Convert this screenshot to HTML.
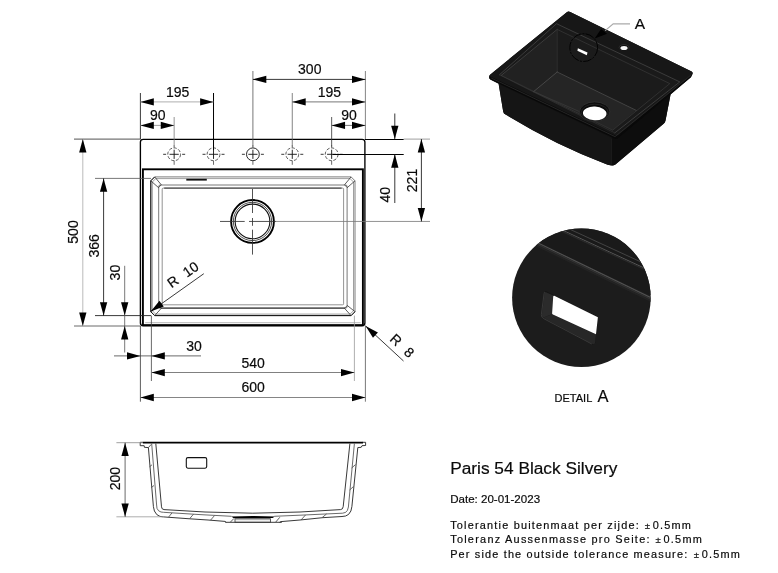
<!DOCTYPE html>
<html><head><meta charset="utf-8"><title>Paris 54 Black Silvery</title>
<style>
html,body{margin:0;padding:0;background:#fff;}
body{width:778px;height:573px;overflow:hidden;font-family:"Liberation Sans",sans-serif;}
svg{display:block;font-family:"Liberation Sans",sans-serif;}
svg text{fill:#0a0a0a;stroke:#0a0a0a;stroke-width:0.18px;}
svg{will-change:transform;opacity:0.999;}
</style></head><body>
<svg width="778" height="573" viewBox="0 0 778 573">
<rect width="778" height="573" fill="#fff"/>
<rect x="140.4" y="139.29999999999998" width="224.50" height="186.60" rx="2.8" fill="none" stroke="#000" stroke-width="1.35"/>
<rect x="142.9" y="169.3" width="220.00" height="155.80" fill="none" stroke="#000" stroke-width="1.9"/>
<path d="M145.2 322.7 H360.6" fill="none" stroke="#999" stroke-width="0.7"/>
<path d="M154.70 176.90 H351.10 L355.00 180.80 V311.70 L351.10 315.60 H154.70 L150.80 311.70 V180.80 Z" fill="none" stroke="#666" stroke-width="0.85"/>
<path d="M154.70 176.90 L150.80 180.80 V311.70 L154.70 315.60 H351.10 L355.00 311.70" fill="none" stroke="#111" stroke-width="1.0"/>
<path d="M155.70 178.60 H350.10 L353.50 182.00 V310.70 L350.10 314.10 H155.70 L152.30 310.70 V182.00 Z" fill="none" stroke="#777" stroke-width="0.7"/>
<rect x="158.7" y="185.0" width="188.40" height="123.10" rx="1.5" fill="none" stroke="#555" stroke-width="0.8"/>
<path d="M160.70 308.10 H345.10" fill="none" stroke="#1a1a1a" stroke-width="0.9"/>
<rect x="162.2" y="188.1" width="181.40" height="116.70" rx="1" fill="none" stroke="#777" stroke-width="0.8"/>
<path d="M164.20 188.10 H341.60" fill="none" stroke="#222" stroke-width="0.9"/>
<path d="M150.80 180.80 L158.50 187.60 L161.30 184.80 L154.70 176.90" fill="none" stroke="#333" stroke-width="0.8"/>
<path d="M355.00 180.80 L347.30 187.60 L344.50 184.80 L351.10 176.90" fill="none" stroke="#333" stroke-width="0.8"/>
<path d="M150.80 311.70 L158.50 305.50 L161.30 308.30 L154.70 315.60" fill="none" stroke="#333" stroke-width="0.8"/>
<path d="M355.00 311.70 L347.30 305.50 L344.50 308.30 L351.10 315.60" fill="none" stroke="#333" stroke-width="0.8"/>
<line x1="186.30" y1="179.70" x2="206.80" y2="179.70" stroke="#111" stroke-width="1.8" />
<circle cx="174.15" cy="154.3" r="6.4" fill="none" stroke="#333" stroke-width="0.8" stroke-dasharray="3.2 1.6"/>
<line x1="169.55" y1="154.30" x2="178.75" y2="154.30" stroke="#111" stroke-width="0.9" />
<line x1="174.15" y1="149.70" x2="174.15" y2="158.90" stroke="#111" stroke-width="0.9" />
<line x1="163.15" y1="154.30" x2="166.15" y2="154.30" stroke="#222" stroke-width="0.9" />
<line x1="182.15" y1="154.30" x2="185.15" y2="154.30" stroke="#222" stroke-width="0.9" />
<line x1="174.15" y1="160.80" x2="174.15" y2="164.80" stroke="#444" stroke-width="0.8" />
<line x1="174.15" y1="145.30" x2="174.15" y2="147.70" stroke="#444" stroke-width="0.8" />
<circle cx="213.52" cy="154.3" r="6.4" fill="none" stroke="#333" stroke-width="0.8" stroke-dasharray="3.2 1.6"/>
<line x1="208.92" y1="154.30" x2="218.12" y2="154.30" stroke="#111" stroke-width="0.9" />
<line x1="213.52" y1="149.70" x2="213.52" y2="158.90" stroke="#111" stroke-width="0.9" />
<line x1="202.52" y1="154.30" x2="205.52" y2="154.30" stroke="#222" stroke-width="0.9" />
<line x1="221.52" y1="154.30" x2="224.52" y2="154.30" stroke="#222" stroke-width="0.9" />
<line x1="213.52" y1="160.80" x2="213.52" y2="164.80" stroke="#444" stroke-width="0.8" />
<line x1="213.52" y1="145.30" x2="213.52" y2="147.70" stroke="#444" stroke-width="0.8" />
<circle cx="252.90" cy="154.3" r="6.4" fill="none" stroke="#111" stroke-width="0.9"/>
<line x1="248.30" y1="154.30" x2="257.50" y2="154.30" stroke="#111" stroke-width="0.9" />
<line x1="252.90" y1="149.70" x2="252.90" y2="158.90" stroke="#111" stroke-width="0.9" />
<line x1="241.90" y1="154.30" x2="244.90" y2="154.30" stroke="#222" stroke-width="0.9" />
<line x1="260.90" y1="154.30" x2="263.90" y2="154.30" stroke="#222" stroke-width="0.9" />
<line x1="252.90" y1="160.80" x2="252.90" y2="164.80" stroke="#444" stroke-width="0.8" />
<line x1="252.90" y1="145.30" x2="252.90" y2="147.70" stroke="#444" stroke-width="0.8" />
<circle cx="292.27" cy="154.3" r="6.4" fill="none" stroke="#333" stroke-width="0.8" stroke-dasharray="3.2 1.6"/>
<line x1="287.67" y1="154.30" x2="296.88" y2="154.30" stroke="#111" stroke-width="0.9" />
<line x1="292.27" y1="149.70" x2="292.27" y2="158.90" stroke="#111" stroke-width="0.9" />
<line x1="281.27" y1="154.30" x2="284.27" y2="154.30" stroke="#222" stroke-width="0.9" />
<line x1="300.27" y1="154.30" x2="303.27" y2="154.30" stroke="#222" stroke-width="0.9" />
<line x1="292.27" y1="160.80" x2="292.27" y2="164.80" stroke="#444" stroke-width="0.8" />
<line x1="292.27" y1="145.30" x2="292.27" y2="147.70" stroke="#444" stroke-width="0.8" />
<circle cx="331.65" cy="154.3" r="6.4" fill="none" stroke="#333" stroke-width="0.8" stroke-dasharray="3.2 1.6"/>
<line x1="327.05" y1="154.30" x2="336.25" y2="154.30" stroke="#111" stroke-width="0.9" />
<line x1="331.65" y1="149.70" x2="331.65" y2="158.90" stroke="#111" stroke-width="0.9" />
<line x1="320.65" y1="154.30" x2="323.65" y2="154.30" stroke="#222" stroke-width="0.9" />
<line x1="339.65" y1="154.30" x2="342.65" y2="154.30" stroke="#222" stroke-width="0.9" />
<line x1="331.65" y1="160.80" x2="331.65" y2="164.80" stroke="#444" stroke-width="0.8" />
<line x1="331.65" y1="145.30" x2="331.65" y2="147.70" stroke="#444" stroke-width="0.8" />
<circle cx="252.50" cy="221.45" r="21.4" fill="none" stroke="#000" stroke-width="1.9"/>
<circle cx="252.50" cy="221.45" r="19.15" fill="none" stroke="#222" stroke-width="0.8"/>
<circle cx="252.50" cy="221.45" r="17.35" fill="none" stroke="#111" stroke-width="1.1"/>
<line x1="220.00" y1="221.45" x2="244.70" y2="221.45" stroke="#333" stroke-width="0.85" />
<line x1="249.00" y1="221.45" x2="276.00" y2="221.45" stroke="#333" stroke-width="0.85" />
<line x1="276.00" y1="221.45" x2="430.00" y2="221.45" stroke="#777" stroke-width="0.8" />
<line x1="252.50" y1="189.00" x2="252.50" y2="213.00" stroke="#333" stroke-width="0.85" />
<line x1="252.50" y1="218.00" x2="252.50" y2="225.80" stroke="#333" stroke-width="0.85" />
<line x1="252.50" y1="229.70" x2="252.50" y2="254.60" stroke="#333" stroke-width="0.85" />
<line x1="140.40" y1="93.00" x2="140.40" y2="139.10" stroke="#222" stroke-width="0.9" />
<line x1="365.40" y1="71.00" x2="365.40" y2="139.10" stroke="#666" stroke-width="0.8" />
<line x1="174.15" y1="117.00" x2="174.15" y2="146.50" stroke="#777" stroke-width="0.8" />
<line x1="213.52" y1="93.00" x2="213.52" y2="150.00" stroke="#000" stroke-width="1.0" />
<line x1="252.90" y1="71.00" x2="252.90" y2="146.50" stroke="#555" stroke-width="0.8" />
<line x1="292.27" y1="93.00" x2="292.27" y2="146.50" stroke="#666" stroke-width="0.8" />
<line x1="331.65" y1="117.00" x2="331.65" y2="146.50" stroke="#333" stroke-width="0.8" />
<line x1="252.90" y1="79.40" x2="365.40" y2="79.40" stroke="#222" stroke-width="0.9" />
<polygon points="252.90,79.40 266.30,75.75 266.30,83.05" fill="#000"/>
<polygon points="365.40,79.40 352.00,83.05 352.00,75.75" fill="#000"/>
<text x="309.75" y="74.00" font-size="14" text-anchor="middle" >300</text>
<line x1="140.40" y1="101.90" x2="213.52" y2="101.90" stroke="#999" stroke-width="0.8" />
<polygon points="140.40,101.90 153.80,98.25 153.80,105.55" fill="#000"/>
<polygon points="213.52,101.90 200.12,105.55 200.12,98.25" fill="#000"/>
<text x="177.56" y="96.50" font-size="14" text-anchor="middle" >195</text>
<line x1="292.27" y1="101.90" x2="365.40" y2="101.90" stroke="#555" stroke-width="0.8" />
<polygon points="292.27,101.90 305.67,98.25 305.67,105.55" fill="#000"/>
<polygon points="365.40,101.90 352.00,105.55 352.00,98.25" fill="#000"/>
<text x="329.44" y="96.50" font-size="14" text-anchor="middle" >195</text>
<line x1="140.40" y1="125.40" x2="174.15" y2="125.40" stroke="#888" stroke-width="0.8" />
<polygon points="140.40,125.40 153.80,121.75 153.80,129.05" fill="#000"/>
<polygon points="174.15,125.40 160.75,129.05 160.75,121.75" fill="#000"/>
<text x="157.88" y="120.00" font-size="14" text-anchor="middle" >90</text>
<line x1="331.65" y1="125.40" x2="365.40" y2="125.40" stroke="#555" stroke-width="0.8" />
<polygon points="331.65,125.40 345.05,121.75 345.05,129.05" fill="#000"/>
<polygon points="365.40,125.40 352.00,129.05 352.00,121.75" fill="#000"/>
<text x="349.12" y="120.00" font-size="14" text-anchor="middle" >90</text>
<line x1="364.90" y1="139.50" x2="403.70" y2="139.50" stroke="#000" stroke-width="1.15" />
<line x1="403.70" y1="139.10" x2="430.00" y2="139.10" stroke="#888" stroke-width="0.8" />
<line x1="332.65" y1="154.45" x2="403.70" y2="154.45" stroke="#000" stroke-width="1.1" />
<line x1="394.80" y1="113.50" x2="394.80" y2="139.10" stroke="#222" stroke-width="0.9" />
<line x1="394.80" y1="154.30" x2="394.80" y2="203.00" stroke="#222" stroke-width="0.9" />
<polygon points="394.80,139.10 391.15,125.70 398.45,125.70" fill="#000"/>
<polygon points="394.80,154.30 398.45,167.70 391.15,167.70" fill="#000"/>
<line x1="421.40" y1="139.10" x2="421.40" y2="221.45" stroke="#222" stroke-width="0.9" />
<polygon points="421.40,139.10 425.05,152.50 417.75,152.50" fill="#000"/>
<polygon points="421.40,221.45 417.75,208.05 425.05,208.05" fill="#000"/>
<text x="390.00" y="194.80" font-size="14" text-anchor="middle" transform="rotate(-90 390.00 194.80)" >40</text>
<text x="416.60" y="180.50" font-size="14" text-anchor="middle" transform="rotate(-90 416.60 180.50)" >221</text>
<line x1="74.00" y1="139.10" x2="140.40" y2="139.10" stroke="#333" stroke-width="0.85" />
<line x1="74.00" y1="326.00" x2="140.40" y2="326.00" stroke="#444" stroke-width="0.8" />
<line x1="95.00" y1="178.40" x2="151.00" y2="178.40" stroke="#555" stroke-width="0.8" />
<line x1="95.00" y1="315.60" x2="151.00" y2="315.60" stroke="#222" stroke-width="0.9" />
<line x1="82.80" y1="139.10" x2="82.80" y2="326.00" stroke="#aaa" stroke-width="0.8" />
<polygon points="82.80,139.10 86.45,152.50 79.15,152.50" fill="#000"/>
<polygon points="82.80,326.00 79.15,312.60 86.45,312.60" fill="#000"/>
<line x1="103.60" y1="178.40" x2="103.60" y2="315.60" stroke="#222" stroke-width="0.9" />
<polygon points="103.60,178.40 107.25,191.80 99.95,191.80" fill="#000"/>
<polygon points="103.60,315.60 99.95,302.20 107.25,302.20" fill="#000"/>
<line x1="124.70" y1="265.80" x2="124.70" y2="352.50" stroke="#555" stroke-width="0.8" />
<polygon points="124.70,315.60 121.05,302.20 128.35,302.20" fill="#000"/>
<polygon points="124.70,326.00 128.35,339.40 121.05,339.40" fill="#000"/>
<text x="78.00" y="232.00" font-size="14" text-anchor="middle" transform="rotate(-90 78.00 232.00)" >500</text>
<text x="99.00" y="245.80" font-size="14" text-anchor="middle" transform="rotate(-90 99.00 245.80)" >366</text>
<text x="120.40" y="272.60" font-size="14" text-anchor="middle" transform="rotate(-90 120.40 272.60)" >30</text>
<line x1="140.40" y1="326.00" x2="140.40" y2="401.70" stroke="#333" stroke-width="0.8" />
<line x1="365.40" y1="326.00" x2="365.40" y2="401.70" stroke="#555" stroke-width="0.8" />
<line x1="151.40" y1="315.60" x2="151.40" y2="381.00" stroke="#444" stroke-width="0.8" />
<line x1="354.40" y1="315.60" x2="354.40" y2="381.00" stroke="#999" stroke-width="0.8" />
<line x1="114.00" y1="355.90" x2="201.00" y2="355.90" stroke="#444" stroke-width="0.8" />
<polygon points="140.40,355.90 127.00,359.55 127.00,352.25" fill="#000"/>
<polygon points="151.40,355.90 164.80,352.25 164.80,359.55" fill="#000"/>
<text x="194.00" y="351.00" font-size="14" text-anchor="middle" >30</text>
<line x1="151.40" y1="372.50" x2="354.40" y2="372.50" stroke="#808080" stroke-width="1.0" />
<polygon points="151.40,372.60 164.80,368.95 164.80,376.25" fill="#000"/>
<polygon points="354.40,372.60 341.00,376.25 341.00,368.95" fill="#000"/>
<text x="253.20" y="367.80" font-size="14" text-anchor="middle" >540</text>
<line x1="140.40" y1="397.50" x2="365.40" y2="397.50" stroke="#666" stroke-width="0.8" />
<polygon points="140.40,397.50 153.80,393.85 153.80,401.15" fill="#000"/>
<polygon points="365.40,397.50 352.00,401.15 352.00,393.85" fill="#000"/>
<text x="253.20" y="392.30" font-size="14" text-anchor="middle" >600</text>
<line x1="150.70" y1="311.40" x2="203.80" y2="273.70" stroke="#222" stroke-width="0.9" />
<polygon points="150.70,311.40 159.49,300.65 163.73,306.59" fill="#000"/>
<line x1="365.40" y1="325.80" x2="403.50" y2="361.00" stroke="#222" stroke-width="0.9" />
<polygon points="365.60,326.00 377.92,332.41 372.97,337.77" fill="#000"/>
<text x="171.4" y="288.6" font-size="14" transform="rotate(-35 171.4 288.6)">R&#160;&#160;<tspan dx="1.2">10</tspan></text>
<text x="389.0" y="340.1" font-size="14" transform="rotate(43 389.0 340.1)">R&#160;&#160;<tspan dx="1.3">8</tspan></text>
<line x1="142.80" y1="442.70" x2="363.00" y2="442.70" stroke="#000" stroke-width="1.7" />
<path d="M142.80 442.30 L140.20 442.30 L140.20 445.70 L144.20 445.70 L144.40 447.30 L148.40 447.60 L153.40 506.50 L154.40 511.00 L156.80 514.60 L160.00 516.40 L163.50 516.90 L189.60 518.80 L208.00 520.00 L225.00 521.40 L226.20 522.30" fill="none" stroke="#222" stroke-width="0.9" stroke-linejoin="round"/>
<path d="M362.70 442.30 L365.60 442.30 L365.60 445.50 L362.00 445.70 L361.20 447.30 L357.80 447.60 L351.90 506.50 L350.90 511.00 L348.60 514.40 L345.60 516.00 L342.00 516.50 L322.50 517.70 L300.00 520.00 L281.00 521.60 L279.60 522.30" fill="none" stroke="#222" stroke-width="0.9" stroke-linejoin="round"/>
<path d="M148.40 447.60 L151.20 444.40" fill="none" stroke="#333" stroke-width="0.8" stroke-linejoin="round"/>
<path d="M151.70 443.60 L156.60 505.00 L157.00 508.40 L158.60 510.80 L161.00 512.00 L163.50 512.30 L200.00 514.60 L231.50 516.30" fill="none" stroke="#444" stroke-width="0.8" stroke-linejoin="round"/>
<path d="M354.40 443.60 L348.40 507.00 L347.40 510.40 L345.60 512.40 L342.60 513.20 L300.00 515.20 L274.30 516.30" fill="none" stroke="#444" stroke-width="0.8" stroke-linejoin="round"/>
<path d="M155.8 443.6 L161.5 506.8 L162.2 508.8 L164.0 509.6 L205 512.0 Q253 514.4 300 512.0 L340.5 509.6 L342.4 508.8 L343.2 506.6 L349.9 443.6" fill="none" stroke="#222" stroke-width="0.9" stroke-linejoin="round"/>
<path d="M149.50 466.80 L152.00 464.80" fill="none" stroke="#444" stroke-width="0.8" stroke-linejoin="round"/>
<path d="M151.40 487.50 L154.00 485.50" fill="none" stroke="#444" stroke-width="0.8" stroke-linejoin="round"/>
<path d="M168.50 517.20 L172.00 512.90" fill="none" stroke="#444" stroke-width="0.8" stroke-linejoin="round"/>
<path d="M189.50 518.80 L193.50 514.20" fill="none" stroke="#444" stroke-width="0.8" stroke-linejoin="round"/>
<path d="M210.50 520.20 L214.50 515.60" fill="none" stroke="#444" stroke-width="0.8" stroke-linejoin="round"/>
<path d="M301.00 520.00 L305.50 515.00" fill="none" stroke="#444" stroke-width="0.8" stroke-linejoin="round"/>
<path d="M322.00 517.70 L326.50 514.00" fill="none" stroke="#444" stroke-width="0.8" stroke-linejoin="round"/>
<path d="M351.60 468.00 L355.50 464.60" fill="none" stroke="#444" stroke-width="0.8" stroke-linejoin="round"/>
<path d="M349.60 490.00 L353.40 486.60" fill="none" stroke="#444" stroke-width="0.8" stroke-linejoin="round"/>
<path d="M225.30 522.30 L281.80 522.30" fill="none" stroke="#222" stroke-width="0.9" stroke-linejoin="round"/>
<path d="M230.40 522.10 L234.00 518.40" fill="none" stroke="#333" stroke-width="0.8" stroke-linejoin="round"/>
<path d="M275.70 522.10 L279.80 517.30" fill="none" stroke="#333" stroke-width="0.8" stroke-linejoin="round"/>
<rect x="235.0" y="518.7" width="35.5" height="3.5" fill="none" stroke="#333" stroke-width="0.8"/>
<line x1="235.00" y1="519.70" x2="270.50" y2="519.70" stroke="#777" stroke-width="0.6" />
<path d="M231.3 516.5 Q253 515.3 274.8 516.5 L272.6 518.1 L233.4 518.1 Z" fill="#000"/>
<rect x="186.3" y="457.6" width="20.4" height="10.6" rx="1.6" fill="none" stroke="#111" stroke-width="1.1"/>
<line x1="116.40" y1="442.70" x2="142.00" y2="442.70" stroke="#888" stroke-width="0.8" />
<line x1="116.40" y1="516.80" x2="163.00" y2="516.80" stroke="#999" stroke-width="0.8" />
<line x1="125.10" y1="442.70" x2="125.10" y2="516.80" stroke="#444" stroke-width="0.8" />
<polygon points="125.10,442.70 128.75,456.10 121.45,456.10" fill="#000"/>
<polygon points="125.10,516.80 121.45,503.40 128.75,503.40" fill="#000"/>
<text x="119.80" y="478.60" font-size="14" text-anchor="middle" transform="rotate(-90 119.80 478.60)" >200</text>
<!-- 3D sink -->
<g>
<!-- silhouette body -->
<path d="M566.8 12.2 Q568.4 11.0 570.2 12.0 L691.6 71.6 Q693.4 72.8 692.4 74.6 L691.0 77.0 L670.6 94.6 L665.4 121.0 Q665.0 122.6 663.6 123.8 L615.4 164.4 Q613.4 165.8 610.8 165.4 Q607.6 165.0 604.6 163.4 Q556.0 145.4 505.6 114.6 Q503.6 113.6 503.2 111.4 L498.6 83.8 L490.8 79.8 Q488.6 78.6 489.0 76.6 Q489.2 75.4 490.4 74.4 Z" fill="#141414"/>
<!-- front face -->
<path d="M498.6 83.6 L611.6 138.0 L611.6 165.2 Q607.6 165.0 604.6 163.4 Q556.0 145.4 505.6 114.6 Q503.6 113.6 503.2 111.4 Z" fill="#151515"/>
<!-- right face -->
<path d="M611.6 138.0 L670.6 94.0 L665.4 121.0 Q665.0 122.6 663.6 123.8 L615.4 164.4 Q613.4 165.8 611.6 165.4 Z" fill="#0d0d0d"/>
<!-- rim top face -->
<path d="M566.8 12.2 Q568.4 11.0 570.2 12.0 L691.6 71.6 Q693.4 72.8 691.8 74.4 L618.4 135.0 Q616.8 136.2 614.8 135.2 L490.6 76.8 Q488.6 75.6 490.4 74.4 Z" fill="#171717"/>
<!-- rim edge (underside) -->
<path d="M490.0 76.6 L614.8 135.4 Q616.8 136.4 618.4 135.2 L692.0 74.4 L691.0 77.2 L617.6 138.4 Q616.2 139.4 614.4 138.6 L490.8 79.8 Q488.8 78.6 490.0 76.6 Z" fill="#090909"/>
<!-- basin opening (step) -->
<path d="M556.5 23.7 L679.8 81.9 L614.8 132.9 L499.4 74.8 Z" fill="#1a1a1a"/>
<!-- left wall -->
<path d="M557.2 29.4 L557.2 72.0 L533.6 91.6 L501.2 75.4 Z" fill="#212121"/>
<!-- back wall -->
<path d="M557.2 29.4 L669.8 83.6 L636.1 110.3 L557.2 72.0 Z" fill="#1b1b1b"/>
<!-- floor -->
<path d="M557.2 72.0 L636.1 110.3 L612.6 130.2 L533.6 91.6 Z" fill="#252525"/>
<!-- highlight lines -->
<g fill="none" stroke-linecap="round" stroke-linejoin="round">
<path d="M499.4 74.8 L556.5 23.7 L679.8 81.9 L614.8 132.9" stroke="#404040" stroke-width="0.9"/>
<path d="M499.4 74.8 L614.8 132.9" stroke="#303030" stroke-width="0.8"/>
<path d="M557.2 29.4 L669.8 83.6 L612.6 130.2 L501.2 75.4" stroke="#363636" stroke-width="0.8"/>
<path d="M557.2 29.4 L501.2 75.4" stroke="#444" stroke-width="0.8"/>
<path d="M557.2 30 L557.2 72.0" stroke="#303030" stroke-width="0.9"/>
<path d="M557.2 72.0 L636.1 110.3" stroke="#4a4a4a" stroke-width="0.8"/>
<path d="M557.2 72.0 L533.6 91.6" stroke="#505050" stroke-width="0.8"/>
<path d="M533.6 91.6 L579.5 111.6" stroke="#3c3c3c" stroke-width="0.7"/>
<path d="M491.6 78.2 L615.0 136.6 L690.6 75.4" stroke="#2c2c2c" stroke-width="0.8"/>
<path d="M611.4 139 L611.4 164" stroke="#1f1f1f" stroke-width="0.8"/>
</g>
<!-- drain -->
<ellipse cx="594.7" cy="111.7" rx="15.2" ry="9.8" fill="#0e0e0e" stroke="#343434" stroke-width="0.8"/>
<ellipse cx="594.7" cy="112.5" rx="13.4" ry="8.3" fill="#0b0b0b" stroke="#2c2c2c" stroke-width="0.7"/>
<ellipse cx="594.7" cy="113.4" rx="11.8" ry="6.8" fill="#fff" transform="rotate(3 594.7 113.4)"/>
<!-- tap hole -->
<ellipse cx="624.0" cy="47.6" rx="5.3" ry="3.3" fill="#333"/>
<ellipse cx="624.0" cy="47.9" rx="4.6" ry="2.8" fill="#0c0c0c"/>
<ellipse cx="624.0" cy="48.0" rx="3.6" ry="2.0" fill="#f6f6f6"/>
<!-- overflow slot -->
<path d="M577.9 48.2 L587.5 52.6 L586.8 55.2 L577.4 50.8 Z" fill="#fff"/>
<!-- detail circle -->
<circle cx="583.7" cy="47.6" r="13.9" fill="none" stroke="#000" stroke-width="0.9" stroke-dasharray="9 1.2 2 1.2"/>
<!-- leader -->
<path d="M605.2 30.6 L613.2 23.9 L630.0 23.9" fill="none" stroke="#aaa" stroke-width="1.2"/>
<path d="M594.7 38.4 L601.1 29.0 L607.0 33.8 Z" fill="#000"/>
<text x="634.8" y="29.1" font-size="15.5">A</text>
</g>

<!-- Detail A -->
<g>
<clipPath id="dc"><circle cx="581.4" cy="297.7" r="69.3"/></clipPath>
<circle cx="581.4" cy="297.7" r="69.3" fill="#1c1c1c"/>
<g clip-path="url(#dc)">
<path d="M500 215 L700 215 L700 318 L539.0 243.4 Z" fill="#1a1a1a"/>
<path d="M536 242.0 L655 299.6" stroke="#505050" stroke-width="1.3" fill="none"/>
<path d="M536 243.6 L655 301.2" stroke="#303030" stroke-width="1.6" fill="none"/>
<path d="M536 245.4 L655 303.0" stroke="#232323" stroke-width="1.6" fill="none"/>
<path d="M560 229.0 L645 268.4" stroke="#555" stroke-width="1.0" fill="none"/>
<path d="M560 230.4 L645 269.8" stroke="#2a2a2a" stroke-width="1.2" fill="none"/>
<path d="M568 228.4 L648 265.2" stroke="#484848" stroke-width="0.9" fill="none"/>
<!-- slot bevel -->
<path d="M546.4 291.2 Q544.4 290.6 544.0 293.0 L541.0 314.6 Q540.8 317.4 543.2 318.8 L591.6 344.2 Q594.6 345.4 595.2 342.8 L597.9 317.2 Z" fill="#161616"/>
<path d="M545.4 292.0 L553.3 295.6 L552.1 314.2 L543.0 317.8 Q541.6 317.0 541.9 314.6 L544.6 293.2 Z" fill="#2b2b2b"/>
<path d="M543.0 317.8 L552.1 314.2 L596.0 334.3 L595.0 343.0 Q594.4 345.0 591.8 343.8 Z" fill="#272727"/>
<path d="M545.0 291.8 Q544.3 292.0 544.1 293.4 L541.3 314.8 Q541.2 317.2 543.2 318.4 L591.8 344.0" stroke="#3d3d3d" stroke-width="0.9" fill="none"/>
<path d="M554.3 295.8 L597.9 317.2 L596.0 334.3 L552.9 314.6 Q552.0 314.2 552.1 313.2 L553.2 296.4 Q553.4 295.4 554.3 295.8 Z" fill="#fff"/>
</g>
</g>
<text x="554.6" y="402" font-size="11">DETAIL</text>
<text x="597.6" y="402" font-size="16.5">A</text>

<text x="450.2" y="474" font-size="17.3">Paris 54 Black Silvery</text>
<text x="450.2" y="503.4" font-size="11.55">Date: 20-01-2023</text>
<text x="450.2" y="528.6" font-size="10.9" letter-spacing="1.2">Tolerantie buitenmaat per zijde:<tspan x="644.8" font-size="9.6">±</tspan><tspan x="652.7">0.5mm</tspan></text>
<text x="450.2" y="543.3" font-size="10.9" letter-spacing="1.255">Toleranz Aussenmasse pro Seite:<tspan x="655.6" font-size="9.6">±</tspan><tspan x="663.5">0.5mm</tspan></text>
<text x="450.2" y="557.5" font-size="10.9" letter-spacing="1.17">Per side the outside tolerance measure:<tspan x="693.7" font-size="9.6">±</tspan><tspan x="701.8">0.5mm</tspan></text>

</svg>
</body></html>
